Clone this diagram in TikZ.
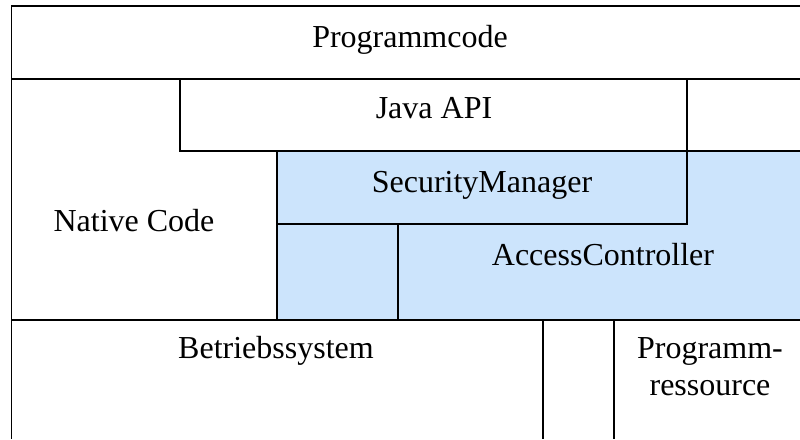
\documentclass[tikz,border=0pt]{standalone}
\usepackage{fontspec}
\setmainfont{Liberation Serif}
\definecolor{smblue}{RGB}{204,228,252}
\begin{document}
\begin{tikzpicture}[x=1pt,y=-1pt,
  edge/.style={draw=black,line width=1.6pt},
  lbl/.style={font=\fontsize{32}{38}\selectfont,anchor=base,inner sep=0pt}]
\useasboundingbox (0,0) rectangle (800,439);
% blue area
\fill[smblue] (277,151) rectangle (800,320);
% frame lines
\draw[edge] (800,6) -- (11.5,6) -- (11.5,439);
\draw[edge] (11.5,79) -- (800,79);
% Java API
\draw[edge] (180,79) -- (180,151) -- (687,151) -- (687,79);
% blue top edge
\draw[edge] (687,151) -- (800,151);
% SecurityManager
\draw[edge] (277,151) -- (277,320);
\draw[edge] (277,224) -- (687,224) -- (687,151);
% AccessController left edge
\draw[edge] (398,224) -- (398,320);
% bottom row
\draw[edge] (11.5,320) -- (800,320);
\draw[edge] (543,320) -- (543,439);
\draw[edge] (614,320) -- (614,439);
% labels
\node[lbl] (pc) at (410,47) {Programmcode};
\node[lbl] (api) at (434,118) {Java API};
\node[lbl] (sm) at (482,192) {SecurityManager};
\node[lbl] (nc) at (134,231) {Native Code};
\node[lbl] (ac) at (603,265) {AccessController};
\node[lbl] (bs) at (276,358) {Betriebssystem};
\node[lbl] (pr1) at (710,358) {Programm-};
\node[lbl] (pr2) at (710,395) {ressource};
\end{tikzpicture}
\end{document}
